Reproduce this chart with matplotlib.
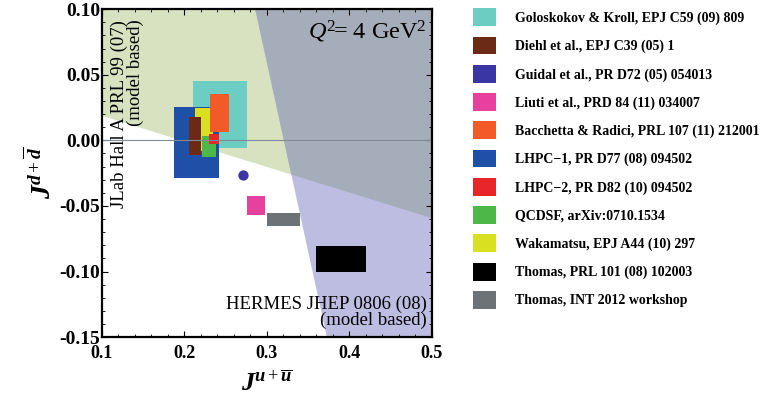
import numpy as np
import matplotlib.pyplot as plt
from matplotlib.patches import Patch
from matplotlib.ticker import MultipleLocator, FormatStrFormatter

plt.rcParams['font.family'] = ['Liberation Serif', 'DejaVu Serif']
plt.rcParams['mathtext.fontset'] = 'custom'
plt.rcParams['mathtext.rm'] = 'Liberation Serif'
plt.rcParams['mathtext.it'] = 'Liberation Serif:italic'
plt.rcParams['mathtext.bf'] = 'Liberation Serif:bold'
plt.rcParams['mathtext.bfit'] = 'Liberation Serif:italic:bold'
plt.rcParams['axes.unicode_minus'] = True

# model-based constraints (boundary lines in J_u, J_d)
jlab_x = [0.1, 0.5]
jlab_y = [0.019, -0.059]
hermes_x = [0.2855, 0.3724]
hermes_y = [0.10, -0.15]

# results: J_u range and J_d range
labels = ["Goloskokov & Kroll, EPJ C59 (09) 809",
          "Diehl et al., EPJ C39 (05) 1",
          "Guidal et al., PR D72 (05) 054013",
          "Liuti et al., PRD 84 (11) 034007",
          "Bacchetta & Radici, PRL 107 (11) 212001",
          "LHPC\u22121, PR D77 (08) 094502",
          "LHPC\u22122, PR D82 (10) 094502",
          "QCDSF, arXiv:0710.1534",
          "Wakamatsu, EPJ A44 (10) 297",
          "Thomas, PRL 101 (08) 102003",
          "Thomas, INT 2012 workshop"]
colors = ["#6ccdc3", "#6b2a16", "#3a37a5", "#e8409e", "#f25a28", "#1f50a8",
          "#e8262a", "#4db848", "#d9e021", "#000000", "#6d7276"]
ju_lo = [0.210, 0.2055, 0.271, 0.276, 0.231, 0.187, 0.230, 0.222, 0.213, 0.360, 0.300]
ju_hi = [0.276, 0.2208, 0.271, 0.298, 0.254, 0.242, 0.242, 0.239, 0.235, 0.420, 0.340]
jd_lo = [-0.006, -0.0113, -0.0268, -0.057, 0.006, -0.0286, -0.003, -0.0126, -0.008, -0.100, -0.0654]
jd_hi = [0.045, 0.0175, -0.0268, -0.0423, 0.035, 0.0255, 0.0045, 0.0032, 0.025, -0.0806, -0.0557]
# drawing order (front-most last)
order = [0, 5, 8, 1, 7, 4, 6, 3, 10, 9]

fig = plt.figure(figsize=(7.6, 3.98), dpi=100)
ax = fig.add_axes([0.134, 0.153, 0.434, 0.824])

x = np.linspace(0.1, 0.5, 2001)
low_jlab = np.interp(x, jlab_x, jlab_y)
low_hermes = np.interp(x, hermes_x, hermes_y)
ax.fill_between(x, low_jlab, 0.1, color="#d8e2c0", lw=0)
ax.fill_between(x, low_hermes, 0.1, color="#bdbde2", lw=0)
ax.fill_between(x, np.minimum(np.maximum(low_jlab, low_hermes), 0.1), 0.1, color="#a6adba", lw=0)

ax.axhline(0, color="#7f8a95", lw=0.8)

for i in order:
    ax.bar(ju_lo[i], jd_hi[i] - jd_lo[i], width=ju_hi[i] - ju_lo[i], bottom=jd_lo[i],
           align="edge", color=colors[i], lw=0)
ax.scatter(ju_lo[2], jd_lo[2], s=55, color=colors[2], lw=0, zorder=3)

ax.text(0.111, 0.092, "JLab Hall A PRL 99 (07)\n(model based)", rotation=90,
        ha="left", va="top", multialignment="right", fontsize=13.5, linespacing=0.85)
ax.text(0.494, -0.144, "HERMES JHEP 0806 (08)\n(model based)", ha="right", va="bottom",
        multialignment="right", fontsize=13.5, linespacing=0.9)
ax.text(0.494, 0.093, r"$Q^2\!$= 4 GeV$^2$", ha="right", va="top", fontsize=17.5)

ax.set_xlim(0.1, 0.5)
ax.set_ylim(-0.15, 0.10)
ax.xaxis.set_major_locator(MultipleLocator(0.1))
ax.xaxis.set_minor_locator(MultipleLocator(0.02))
ax.yaxis.set_major_locator(MultipleLocator(0.05))
ax.yaxis.set_minor_locator(MultipleLocator(0.01))
ax.xaxis.set_major_formatter(FormatStrFormatter("%.1f"))
ax.yaxis.set_major_formatter(FormatStrFormatter("%.2f"))
ax.tick_params(which="both", direction="in", top=True, right=True)
ax.tick_params(which="major", length=4, width=0.8)
ax.tick_params(which="minor", length=2, width=0.6)
ax.tick_params(axis="y", labelsize=14, pad=1)
ax.tick_params(axis="x", labelsize=13, pad=6)
for lab in ax.get_xticklabels() + ax.get_yticklabels():
    lab.set_fontweight("bold")
for s in ax.spines.values():
    s.set_linewidth(1.6)

ax.set_xlabel(r"$\mathbfit{J}^{\mathbfit{u}+\overline{\mathbfit{u}}}$", fontsize=19, labelpad=6)
ax.set_ylabel(r"$\mathbfit{J}^{\mathbfit{d}+\overline{\mathbfit{d}}}$", fontsize=20, labelpad=2)

handles = [Patch(facecolor=c, edgecolor="none") for c in colors]
fig.legend(handles, labels, loc="upper left", bbox_to_anchor=(0.612, 1.0), frameon=False,
           prop={"weight": "bold", "size": 10}, handlelength=1.6, handleheight=1.6,
           labelspacing=0.75, handletextpad=1.4, borderaxespad=0.2)

fig.savefig("out.png", dpi=100)
